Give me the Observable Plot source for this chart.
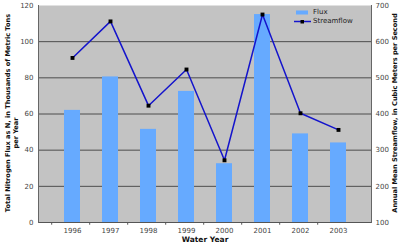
<!DOCTYPE html>
<html>
<head>
<meta charset="utf-8">
<script src="https://cdn.jsdelivr.net/npm/d3@7"></script>
<script src="https://cdn.jsdelivr.net/npm/@observablehq/plot@0.6"></script>
<style>
  html, body { margin: 0; padding: 0; background: #fff; }
  #wrap { position: relative; width: 400px; height: 248px; font-family: "DejaVu Sans", Verdana, sans-serif; }
  #legend { position: absolute; left: 294px; top: 8px; font-size: 7px; color: #222; line-height: 9px; }
  #legend .row { display: flex; align-items: center; height: 9px; }
  #legend svg { margin-right: 2px; }
</style>
</head>
<body>
<div id="wrap"></div>
<script>
const years = ["1996", "1997", "1998", "1999", "2000", "2001", "2002", "2003"];
const flux = [62, 80.5, 51.5, 72.5, 32.5, 115, 49, 44];
const streamflow = [555, 656, 423, 523, 272, 675, 402, 356];
const fluxTicks = [0, 20, 40, 60, 80, 100, 120];
const flowTicks = [100, 200, 300, 400, 500, 600, 700];
const gridValues = [20, 40, 60, 80, 100];

// map streamflow (right axis, 100–700) onto the left scale (0–120)
const toLeft = s => (s - flowTicks[0]) / (flowTicks[flowTicks.length - 1] - flowTicks[0]) * fluxTicks[fluxTicks.length - 1];
const data = years.map((year, i) => ({year, flux: flux[i], flow: streamflow[i]}));

const font = "DejaVu Sans, Verdana, sans-serif";
const titleFont = "DejaVu Sans, Verdana, sans-serif";
const titleOpts = {rotate: -90, textAnchor: "middle", lineAnchor: "middle", fontWeight: "bold", fontSize: 6.6, fontFamily: titleFont, fill: "#111"};
const chart = Plot.plot({
  width: 400,
  height: 248,
  marginLeft: 38,
  marginRight: 29,
  marginTop: 5,
  marginBottom: 26,
  style: {fontFamily: font, fontSize: "7px", background: "#fff", color: "#333"},
  x: {type: "band", domain: years, padding: 0.58},
  y: {domain: [0, 120]},
  marks: [
    Plot.frame({fill: "#c3c3c3", stroke: null}),
    Plot.ruleY(gridValues, {stroke: "#4d4d4d", strokeWidth: 1}),
    Plot.barY(data, {x: "year", y: "flux", fill: "#66aaff"}),
    Plot.line(data, {x: "year", y: d => toLeft(d.flow), stroke: "#1414cc", strokeWidth: 1.5}),
    Plot.dot(data, {x: "year", y: d => toLeft(d.flow), symbol: "square", r: 2.2, fill: "#000", stroke: null}),
    Plot.ruleY([0], {stroke: "#555"}),
    Plot.ruleX(years, {x: d => d, dx: -20.8, y1: 0, y2: -1.5, stroke: "#555"}),
    Plot.frame({anchor: "left", stroke: "#666"}),
    Plot.frame({anchor: "right", stroke: "#666"}),
    Plot.axisY({anchor: "left", ticks: fluxTicks, tickSize: 0, tickPadding: 5, label: null, fill: "#444"}),
    Plot.axisY({anchor: "right", ticks: fluxTicks, tickSize: 0, tickPadding: 4, label: null, fill: "#444",
      tickFormat: v => flowTicks[fluxTicks.indexOf(v)]}),
    Plot.axisX({tickSize: 0, tickPadding: 6, label: null, fill: "#444"}),
    Plot.text(["Water Year"], {frameAnchor: "bottom", dy: 19, textAnchor: "middle", fontWeight: "bold", fontSize: 7.5, fill: "#111"}),
    Plot.text(["Total Nitrogen Flux as N, in Thousands of Metric Tons"], {...titleOpts, frameAnchor: "left", dx: -31, dy: -1}),
    Plot.text(["per Year"], {...titleOpts, frameAnchor: "left", dx: -23, dy: 19}),
    Plot.text(["Annual Mean Streamflow, in Cubic Meters per Second"], {...titleOpts, frameAnchor: "right", dx: 23, dy: -1})
  ]
});
const wrap = document.getElementById("wrap");
wrap.appendChild(chart);

const legend = document.createElement("div");
legend.id = "legend";
legend.innerHTML = `
  <div class="row"><svg width="17" height="9"><rect x="2" y="2.5" width="12" height="4" fill="#66aaff"/></svg>Flux</div>
  <div class="row"><svg width="17" height="9"><line x1="0" x2="17" y1="4.5" y2="4.5" stroke="#1414cc" stroke-width="1.5"/><rect x="6.5" y="3" width="3.5" height="3.5" fill="#000"/></svg>Streamflow</div>`;
wrap.appendChild(legend);
</script>
</body>
</html>
